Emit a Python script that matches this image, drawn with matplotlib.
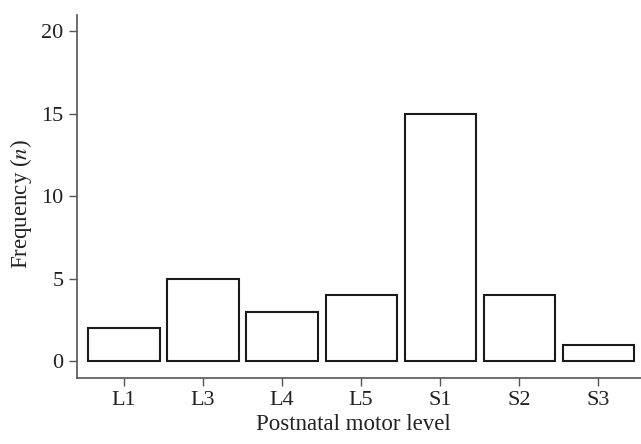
import matplotlib
matplotlib.use("Agg")
import matplotlib.pyplot as plt

# === DATOS ===
niveles = ["L1", "L3", "L4", "L5", "S1", "S2", "S3"]
frecuencias = [2, 5, 3, 4, 15, 4, 1]

plt.rcParams["font.family"] = ["Liberation Serif", "DejaVu Serif"]
plt.rcParams["mathtext.fontset"] = "stix"

fig = plt.figure(figsize=(6.41, 4.44), dpi=100)
ax = fig.add_axes([0.120, 0.1486, 0.880, 0.8176])

x = range(len(niveles))
ax.bar(x, frecuencias, width=0.9, color="white", edgecolor="#1a1a1a", linewidth=1.5)

ax.set_xticks(list(x))
ax.set_xticklabels(niveles)
ax.set_yticks([0, 5, 10, 15, 20])
ax.set_ylim(-1.03, 20.97)
ax.set_xlim(-0.595, 6.54)

for s in ["top", "right"]:
    ax.spines[s].set_visible(False)
for s in ["left", "bottom"]:
    ax.spines[s].set_color("#555555")
    ax.spines[s].set_linewidth(1.2)

ax.tick_params(axis="both", length=5.5, width=1, color="#555555",
               labelsize=16, pad=4, labelcolor="#222222")

ax.set_xlabel("Postnatal motor level", fontsize=16.5, color="#222222")
ax.set_ylabel("Frequency ($\\it{n}$)", fontsize=16.5, color="#222222")
ax.xaxis.set_label_coords(0.49, -0.098)
ax.yaxis.set_label_coords(-0.076, 0.48)

fig.savefig("out.png", dpi=100)
